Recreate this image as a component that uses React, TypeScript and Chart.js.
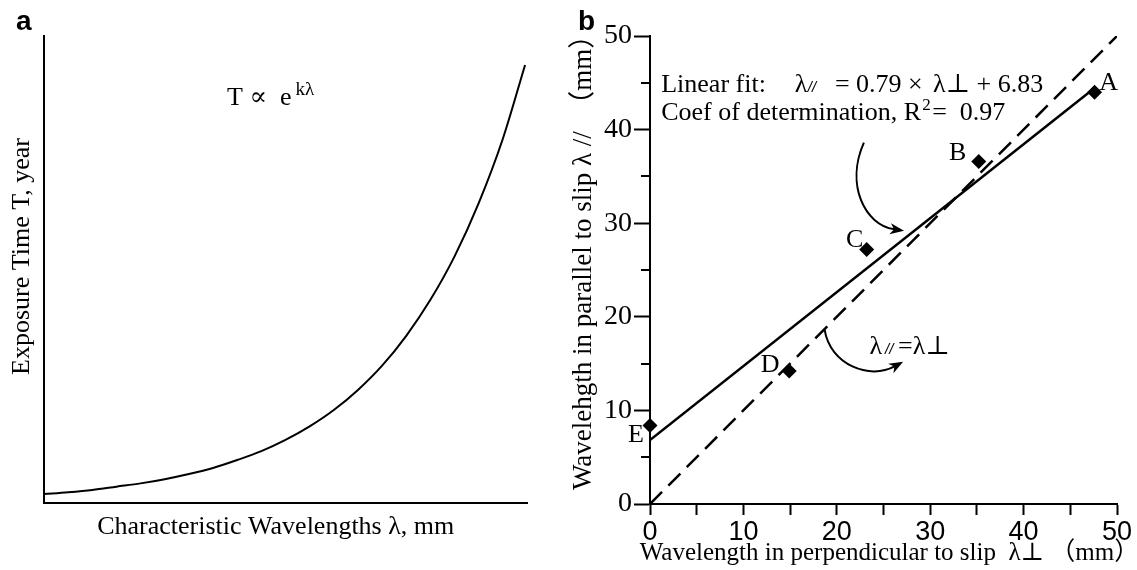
import React, { useEffect, useRef } from "react";
import { Chart, registerables } from "chart.js";

Chart.register(...registerables);

// ---------- Panel a: exposure time against characteristic wavelength (relative units 0–100) ----------
const CURVE_LAMBDA = [0, 5, 10, 15, 20, 25, 30, 35, 40, 45, 50, 55, 60, 65, 70, 75, 80, 85, 90, 95, 99.6];
const CURVE_T = [1.9, 2.3, 2.8, 3.5, 4.2, 5.1, 6.2, 7.5, 9.2, 11.1, 13.5, 16.4, 19.9, 24.2, 29.4, 35.8, 43.5, 52.8, 64.2, 78.0, 93.8];

// ---------- Panel b: measured wavelengths (mm) ----------
const SITES = ["A", "B", "C", "D", "E"];
const PERP = [47.6, 35.2, 23.2, 14.9, 0];
const PARA = [44.0, 36.6, 27.2, 14.2, 8.4];

const FIT_SLOPE = 0.79;
const FIT_INTERCEPT = 6.83;
const FIT_R2 = 0.97;
const FIT_X_RANGE = [0, 47.6];
const IDENTITY_RANGE = [0, 50];

const AXIS_B_MIN = 0;
const AXIS_B_MAX = 50;
const AXIS_B_MINOR = 5;
const AXIS_B_MAJOR = 10;

const X_TITLE_B = "Wavelength in perpendicular to slip  \u03BB\u22A5 \uFF08mm\uFF09";
const Y_TITLE_B = "Wavelehgth in parallel to slip \u03BB //  \uFF08mm\uFF09";

// ---------- styling / annotation layout ----------
const SERIF = "'Liberation Serif', 'Times New Roman', 'DejaVu Serif', 'Noto Sans CJK SC', serif";
const SANS = "'Liberation Sans', Arial, 'DejaVu Sans', sans-serif";
const FONT_PX = 26;
const B_XTITLE_PX = 25;
const B_YTITLE_PX = 27;
const B_YTICK_PX = 28;
const B_XTICK_PX = 27;

// letter label offsets from each site marker: [dx, dy] in px (baseline, centred)
const SITE_LABEL_OFFSET: [number, number][] = [
  [14, -2],
  [-21, -1],
  [-12, -2],
  [-19, 1],
  [-14, 17],
];

// annotation anchors in data units of panel b
const FIT_TEXT_X = 1.2;
const FIT_LINE1_Y = 44.0;
const FIT_LINE2_Y = 41.0;
const ARROW_TO_FIT: [number, number][] = [[22.9, 38.6], [20.9, 34.1], [23.0, 29.8], [27.2, 29.2]];
const ARROW_TO_IDENTITY: [number, number][] = [[18.7, 18.6], [19.3, 14.85], [23.55, 13.25], [27.1, 15.2]];
const IDENTITY_TEXT_X = 23.5;
const IDENTITY_TEXT_Y = 16.0;

// annotation anchor in data units of panel a
const EXP_TEXT_X = 37.9;
const EXP_TEXT_Y = 85.2;

Chart.defaults.color = "#000";

function panelLetter(letter: string, x: number, y: number) {
  return {
    id: "panelLetter" + letter,
    afterDraw(chart: any) {
      const { ctx } = chart;
      ctx.save();
      ctx.fillStyle = "#000";
      ctx.font = `bold 28px ${SANS}`;
      ctx.textAlign = "left";
      ctx.textBaseline = "alphabetic";
      ctx.fillText(letter, x, y);
      ctx.restore();
    },
  };
}

const expressionPlugin = {
  id: "expression",
  afterDraw(chart: any) {
    const { ctx, scales } = chart;
    const x = scales.x.getPixelForValue(EXP_TEXT_X);
    const y = scales.y.getPixelForValue(EXP_TEXT_Y);
    ctx.save();
    ctx.fillStyle = "#000";
    ctx.textBaseline = "alphabetic";
    ctx.textAlign = "left";
    ctx.font = `${FONT_PX}px ${SERIF}`;
    const base = "T \u221D  e";
    ctx.fillText(base, x, y);
    const w = ctx.measureText(base).width;
    ctx.font = `19px ${SERIF}`;
    ctx.fillText("k\u03BB", x + w + 4, y - 10);
    ctx.restore();
  },
};

function drawArrow(ctx: CanvasRenderingContext2D, p: [number, number][]) {
  const [p0, p1, p2, p3] = p;
  const ang = Math.atan2(p3[1] - p2[1], p3[0] - p2[0]);
  const head = 14;
  const half = 5.5;
  const c = Math.cos(ang);
  const s = Math.sin(ang);
  const ex = p3[0] - c * head * 0.7;
  const ey = p3[1] - s * head * 0.7;
  ctx.beginPath();
  ctx.moveTo(p0[0], p0[1]);
  ctx.bezierCurveTo(p1[0], p1[1], p2[0], p2[1], ex, ey);
  ctx.stroke();
  const bx = p3[0] - c * head;
  const by = p3[1] - s * head;
  ctx.beginPath();
  ctx.moveTo(p3[0], p3[1]);
  ctx.lineTo(bx - s * half, by + c * half);
  ctx.lineTo(p3[0] - c * head * 0.72, p3[1] - s * head * 0.72);
  ctx.lineTo(bx + s * half, by - c * half);
  ctx.closePath();
  ctx.fill();
}

const annotationsB = {
  id: "annotationsB",
  afterDraw(chart: any) {
    const { ctx, scales, chartArea } = chart;
    const xs = scales.x;
    const ys = scales.y;
    const px = (v: number) => xs.getPixelForValue(v);
    const py = (v: number) => ys.getPixelForValue(v);
    ctx.save();
    ctx.fillStyle = "#000";
    ctx.strokeStyle = "#000";
    ctx.textBaseline = "alphabetic";

    // minor tick marks on the vertical axis
    ctx.lineWidth = 2;
    for (let v = AXIS_B_MIN; v <= AXIS_B_MAX; v += AXIS_B_MINOR) {
      if (v % AXIS_B_MAJOR === 0) continue;
      const yy = Math.round(py(v));
      ctx.beginPath();
      ctx.moveTo(xs.left - 9, yy);
      ctx.lineTo(xs.left, yy);
      ctx.stroke();
    }

    // axis titles (drawn at natural width, wider than the plot area)
    ctx.textBaseline = "middle";
    ctx.textAlign = "center";
    ctx.font = `${B_XTITLE_PX}px ${SERIF}`;
    ctx.fillText(X_TITLE_B, (chartArea.left + chartArea.right) / 2 + 6, chartArea.bottom + 49);
    ctx.save();
    ctx.translate(chartArea.left - 66, chartArea.bottom - 14);
    ctx.rotate(-Math.PI / 2);
    ctx.textAlign = "left";
    ctx.font = `${B_YTITLE_PX}px ${SERIF}`;
    ctx.fillText(Y_TITLE_B, 0, 0);
    ctx.restore();
    ctx.textBaseline = "alphabetic";

    // site letters
    ctx.font = `${FONT_PX}px ${SERIF}`;
    ctx.textAlign = "center";
    SITES.forEach((s, i) => {
      const o = SITE_LABEL_OFFSET[i];
      ctx.fillText(s, px(PERP[i]) + o[0], py(PARA[i]) + o[1]);
    });

    // regression text
    ctx.textAlign = "left";
    const tx = px(FIT_TEXT_X);
    const y1 = py(FIT_LINE1_Y);
    const y2 = py(FIT_LINE2_Y);
    ctx.font = `${FONT_PX}px ${SERIF}`;
    ctx.fillText("Linear fit:", tx, y1);
    ctx.fillText("\u03BB", px(15.5), y1);
    ctx.font = `italic 15px ${SANS}`;
    ctx.fillText("//", px(16.9), y1);
    ctx.font = `${FONT_PX}px ${SERIF}`;
    ctx.fillText(`= ${FIT_SLOPE.toFixed(2)} \u00D7`, px(19.8), y1);
    ctx.fillText(`\u03BB\u22A5 + ${FIT_INTERCEPT.toFixed(2)}`, px(30.3), y1);

    const l2 = "Coef of determination, R";
    ctx.fillText(l2, tx, y2);
    const w2 = ctx.measureText(l2).width;
    ctx.font = `17px ${SERIF}`;
    ctx.fillText("2", tx + w2 + 1, y2 - 10);
    ctx.font = `${FONT_PX}px ${SERIF}`;
    ctx.fillText(`=  ${FIT_R2.toFixed(2)}`, tx + w2 + 11, y2);

    // identity-line text
    const ix = px(IDENTITY_TEXT_X);
    const iy = py(IDENTITY_TEXT_Y);
    ctx.fillText("\u03BB", ix, iy);
    const wl = ctx.measureText("\u03BB").width;
    ctx.font = `italic 15px ${SANS}`;
    ctx.fillText("//", ix + wl + 3, iy);
    ctx.font = `${FONT_PX}px ${SERIF}`;
    ctx.fillText("=\u03BB\u22A5", ix + wl + 16, iy);

    // arrows
    ctx.lineWidth = 2;
    const conv = (pts: [number, number][]) => pts.map(([a, b]) => [px(a), py(b)] as [number, number]);
    drawArrow(ctx, conv(ARROW_TO_FIT));
    drawArrow(ctx, conv(ARROW_TO_IDENTITY));
    ctx.restore();
  },
};

function serifFont(size: number) {
  return { family: SERIF, size, weight: "normal" as const };
}

export default function App() {
  const aRef = useRef<HTMLCanvasElement>(null);
  const bRef = useRef<HTMLCanvasElement>(null);

  useEffect(() => {
    const chartA = new Chart(aRef.current!, {
      type: "line",
      data: {
        datasets: [
          {
            data: CURVE_LAMBDA.map((x, i) => ({ x, y: CURVE_T[i] })),
            borderColor: "#000",
            borderWidth: 2,
            pointRadius: 0,
            cubicInterpolationMode: "monotone",
            fill: false,
          },
        ],
      },
      options: {
        responsive: false,
        animation: false,
        layout: { padding: { left: 0, top: 36, right: 33, bottom: 0 } },
        plugins: { legend: { display: false }, tooltip: { enabled: false } },
        scales: {
          x: {
            type: "linear",
            min: 0,
            max: 100,
            ticks: { display: false },
            grid: { display: false },
            border: { color: "#000", width: 2 },
            title: {
              display: true,
              text: "Characteristic Wavelengths \u03BB, mm   ",
              color: "#000",
              font: serifFont(FONT_PX),
              padding: { top: 0, bottom: 27 },
            },
            afterFit: (s: any) => {
              s.height = 67;
            },
          },
          y: {
            type: "linear",
            min: 0,
            max: 100,
            ticks: { display: false },
            grid: { display: false },
            border: { color: "#000", width: 2 },
            title: {
              display: true,
              text: "    Exposure Time T, year",
              color: "#000",
              font: serifFont(FONT_PX),
              padding: { top: 7, bottom: 0 },
            },
            afterFit: (s: any) => {
              s.width = 44;
            },
          },
        },
      },
      plugins: [panelLetter("a", 16, 30), expressionPlugin],
    } as any);

    const chartB = new Chart(bRef.current!, {
      type: "scatter",
      data: {
        datasets: [
          {
            data: PERP.map((x, i) => ({ x, y: PARA[i] })),
            pointStyle: "rectRot",
            pointRadius: 7.5,
            backgroundColor: "#000",
            borderColor: "#000",
            borderWidth: 0,
            showLine: false,
            clip: false,
          },
          {
            data: FIT_X_RANGE.map((x) => ({ x, y: FIT_SLOPE * x + FIT_INTERCEPT })),
            showLine: true,
            borderColor: "#000",
            borderWidth: 2.5,
            pointRadius: 0,
          },
          {
            data: IDENTITY_RANGE.map((x) => ({ x, y: x })),
            showLine: true,
            borderColor: "#000",
            borderWidth: 2.5,
            borderDash: [17, 9],
            pointRadius: 0,
          },
        ],
      },
      options: {
        responsive: false,
        animation: false,
        layout: { padding: { left: 0, top: 36, right: 20, bottom: 0 } },
        plugins: { legend: { display: false }, tooltip: { enabled: false } },
        scales: {
          x: {
            type: "linear",
            min: AXIS_B_MIN,
            max: AXIS_B_MAX,
            ticks: {
              stepSize: AXIS_B_MINOR,
              autoSkip: false,
              maxRotation: 0,
              padding: 1,
              color: "#000",
              font: { family: SANS, size: B_XTICK_PX },
              callback: (v: any) => (Number(v) % AXIS_B_MAJOR === 0 ? String(v) : ""),
            },
            grid: {
              display: true,
              drawOnChartArea: false,
              drawTicks: true,
              tickLength: 11,
              tickWidth: 2,
              tickColor: "#000",
            },
            border: { color: "#000", width: 2 },
            title: { display: false },
            afterFit: (s: any) => {
              s.height = 66;
            },
          },
          y: {
            type: "linear",
            min: AXIS_B_MIN,
            max: AXIS_B_MAX,
            ticks: {
              stepSize: AXIS_B_MINOR,
              autoSkip: false,
              padding: 2,
              color: "#000",
              font: serifFont(B_YTICK_PX),
              callback: (v: any) => (Number(v) % AXIS_B_MAJOR === 0 ? String(v) : ""),
            },
            grid: {
              display: true,
              drawOnChartArea: false,
              drawTicks: true,
              tickLength: 16,
              tickWidth: 2,
              tickColor: (c: any) =>
                c.tick && Number(c.tick.value) % AXIS_B_MAJOR === 0 ? "#000" : "rgba(0,0,0,0)",
            },
            border: { color: "#000", width: 2 },
            title: { display: false },
            afterFit: (s: any) => {
              s.width = 90;
            },
          },
        },
      },
      plugins: [panelLetter("b", 18, 30), annotationsB],
    } as any);

    return () => {
      chartA.destroy();
      chartB.destroy();
    };
  }, []);

  return (
    <div
      style={{
        position: "fixed",
        left: 0,
        top: 0,
        width: 1137,
        height: 570,
        background: "#fff",
        overflow: "hidden",
      }}
    >
      <canvas
        ref={aRef}
        width={560}
        height={570}
        style={{ position: "absolute", left: 0, top: 0, width: 560, height: 570, display: "block" }}
      />
      <canvas
        ref={bRef}
        width={577}
        height={570}
        style={{ position: "absolute", left: 560, top: 0, width: 577, height: 570, display: "block" }}
      />
    </div>
  );
}
